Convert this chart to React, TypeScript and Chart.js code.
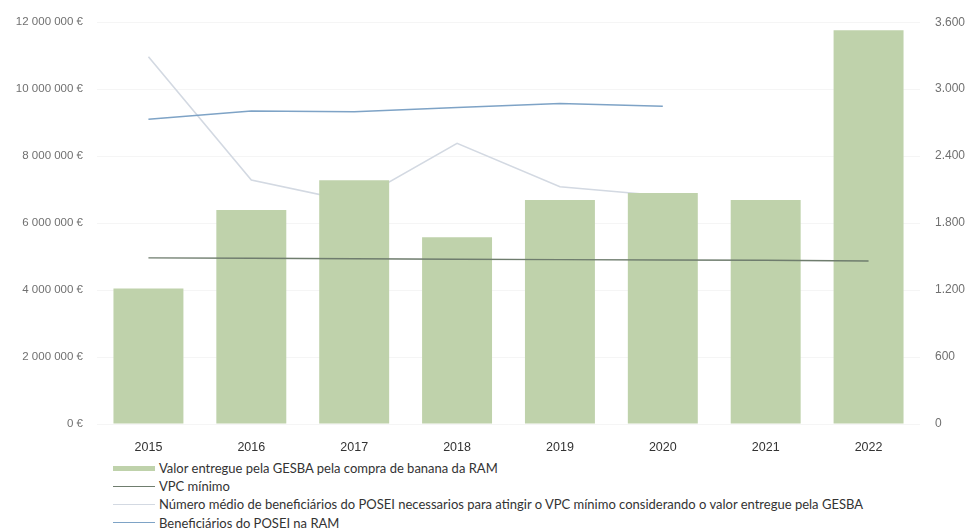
import React, { useEffect, useRef } from "react";
import { Chart, registerables } from "chart.js";

Chart.register(...registerables);

const years = ["2015", "2016", "2017", "2018", "2019", "2020", "2021", "2022"];
const valorGesba = [4050000, 6390000, 7280000, 5580000, 6690000, 6900000, 6690000, 11760000];
const vpcMinimo = [4960000, 4950000, 4935000, 4920000, 4910000, 4900000, 4890000, 4870000];
const numeroMedio = [3290, 2185, 1990, 2515, 2125, 2045, null, null];
const beneficiarios = [2730, 2805, 2797, 2835, 2872, 2848, null, null];

const leftTickValues = [0, 2000000, 4000000, 6000000, 8000000, 10000000, 12000000];
const rightTickValues = [0, 600, 1200, 1800, 2400, 3000, 3600];

const labelValor = "Valor entregue pela GESBA pela compra de banana da RAM";
const labelVpc = "VPC mínimo";
const labelMedio =
  "Número médio de beneficiários do POSEI necessarios para atingir o VPC mínimo considerando o valor entregue pela GESBA";
const labelBenef = "Beneficiários do POSEI na RAM";

const colBar = "rgb(191,210,171)";
const colVpc = "#6f7d6e";
const colMedio = "#d3d9e2";
const colBenef = "#7ea3c6";

const FONT = "'Liberation Sans', Arial, sans-serif";
const LEGEND_FONT = "Lato, 'Liberation Sans', sans-serif";

function fmtEuro(v: number): string {
  const s = Math.round(v).toString().replace(/\B(?=(\d{3})+(?!\d))/g, " ");
  return s + " €";
}
function fmtDot(v: number): string {
  return Math.round(v).toString().replace(/\B(?=(\d{3})+(?!\d))/g, ".");
}

export default function App() {
  const ref = useRef<HTMLCanvasElement | null>(null);

  useEffect(() => {
    document.body.style.margin = "0";
    if (!ref.current) return;
    const chart = new Chart(ref.current, {
      type: "bar",
      data: {
        labels: years,
        datasets: [
          {
            type: "line",
            label: labelVpc,
            data: vpcMinimo,
            yAxisID: "y",
            borderColor: colVpc,
            borderWidth: 1.4,
            pointRadius: 0,
            tension: 0,
            order: 0,
          } as any,
          {
            type: "line",
            label: labelBenef,
            data: beneficiarios,
            yAxisID: "y1",
            borderColor: colBenef,
            borderWidth: 1.5,
            pointRadius: 0,
            tension: 0,
            order: 1,
          } as any,
          {
            type: "bar",
            label: labelValor,
            data: valorGesba,
            yAxisID: "y",
            backgroundColor: colBar,
            borderWidth: 0,
            barPercentage: 0.68,
            categoryPercentage: 1,
            order: 2,
          },
          {
            type: "line",
            label: labelMedio,
            data: numeroMedio,
            yAxisID: "y1",
            borderColor: colMedio,
            borderWidth: 1.6,
            pointRadius: 0,
            tension: 0,
            order: 3,
          } as any,
        ],
      },
      options: {
        animation: false,
        responsive: false,
        maintainAspectRatio: false,
        layout: { padding: { top: 22, left: 0, right: 0, bottom: 0 } },
        plugins: {
          legend: { display: false },
          tooltip: { enabled: false },
        },
        scales: {
          x: {
            grid: { display: false },
            border: { display: false },
            ticks: {
              color: "#333",
              font: { family: FONT, size: 12.5 },
              padding: 8,
            },
            afterFit: (s: any) => {
              s.height = 31;
            },
          },
          y: {
            position: "left",
            min: 0,
            max: 12000000,
            afterBuildTicks: (s: any) => {
              s.ticks = leftTickValues.map((v) => ({ value: v }));
            },
            ticks: {
              color: "#707070",
              font: { family: FONT, size: 11.5 },
              padding: 14,
              callback: (v: any) => fmtEuro(Number(v)),
            },
            grid: { color: "rgba(0,0,0,0.04)", drawTicks: false },
            border: { display: false },
            afterFit: (s: any) => {
              s.width = 97;
            },
          },
          y1: {
            position: "right",
            min: 0,
            max: 3600,
            afterBuildTicks: (s: any) => {
              s.ticks = rightTickValues.map((v) => ({ value: v }));
            },
            ticks: {
              color: "#707070",
              font: { family: FONT, size: 12 },
              padding: 15,
              callback: (v: any) => fmtDot(Number(v)),
            },
            grid: { display: false, drawTicks: false },
            border: { display: false },
            afterFit: (s: any) => {
              s.width = 50;
            },
          },
        },
      },
    });
    return () => chart.destroy();
  }, []);

  const legendItems = [
    { label: labelValor, color: colBar, kind: "bar" },
    { label: labelVpc, color: colVpc, kind: "line" },
    { label: labelMedio, color: colMedio, kind: "line" },
    { label: labelBenef, color: colBenef, kind: "line" },
  ];

  return (
    <div style={{ position: "relative", width: 970, height: 530, background: "#fff", overflow: "hidden" }}>
      <canvas ref={ref} width={970} height={455} style={{ position: "absolute", left: 0, top: 0, width: 970, height: 455 }} />
      <div style={{ position: "absolute", left: 113, top: 459, fontFamily: LEGEND_FONT, fontSize: 13, color: "#333" }}>
        {legendItems.map((it, i) => (
          <div key={i} style={{ display: "flex", alignItems: "center", height: 18.2, whiteSpace: "nowrap" }}>
            <span
              style={{
                display: "inline-block",
                width: 42,
                height: it.kind === "bar" ? 5 : 1.5,
                background: it.color,
                marginRight: 4,
              }}
            />
            <span>{it.label}</span>
          </div>
        ))}
      </div>
    </div>
  );
}
